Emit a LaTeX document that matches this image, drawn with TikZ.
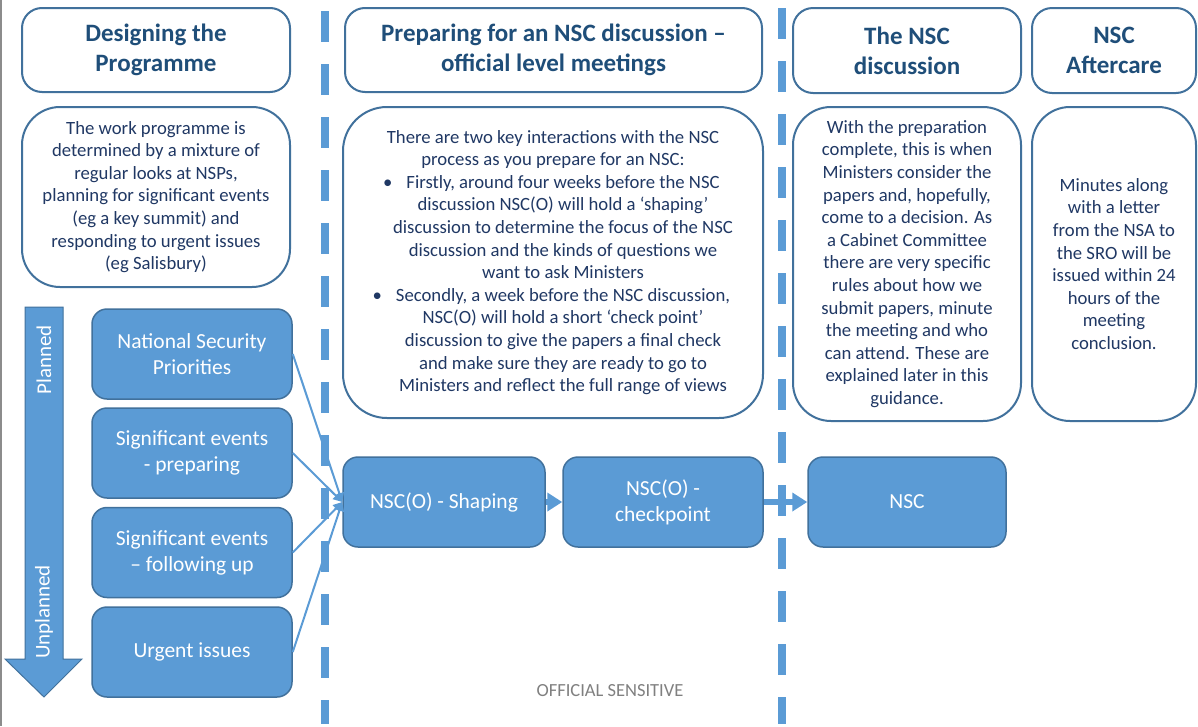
\documentclass[tikz,border=0pt]{standalone}
\usepackage{fontspec}
\setmainfont{Carlito}
\usetikzlibrary{arrows.meta}

\definecolor{nscblue}{HTML}{5B9BD5}
\definecolor{nscedge}{HTML}{41719C}
\definecolor{nschead}{HTML}{1F4E79}
\definecolor{nsctext}{HTML}{203864}

\tikzset{
  head/.style={draw=nscedge, line width=2pt, fill=white, rounded corners=20pt,
    inner sep=0pt, align=center, text=nschead,
    font=\fontsize{25}{30}\selectfont\bfseries},
  note/.style={draw=nscedge, line width=2pt, fill=white, rounded corners=38pt,
    inner sep=0pt, align=center, text=nsctext,
    font=\fontsize{18.7}{22.6}\selectfont},
  blob/.style={draw=nscedge, line width=1.5pt, fill=nscblue, rounded corners=15pt,
    inner sep=0pt, align=center, text=white,
    minimum width=200pt, minimum height=90pt,
    font=\fontsize{21.5}{26}\selectfont},
  link/.style={nscblue, line width=2pt, -{Triangle[length=9pt,width=9pt]}},
  fat/.style={nscblue, line width=5.5pt, -{Triangle[length=15pt,width=18pt]}},
  divider/.style={nscblue, line width=8pt, dash pattern=on 31pt off 22pt}
}

% bullet lines of the list: hanging bullet, body shifted right
\newcommand\nscbul{\hspace*{20pt}\llap{\textbullet\hspace{14pt}}}
\newcommand\nscind{\hspace*{20pt}}

\begin{document}
\begin{tikzpicture}[x=1pt, y=-1pt]
  \fill[white] (0,0) rectangle (1198,726);
  \useasboundingbox (0,0) rectangle (1198,726);
  \draw[gray!90, line width=1.5pt] (0.75,0) -- (0.75,726); % page edge

  % stage dividers
  \draw[divider] (325,11) -- (325,724);
  \draw[divider] (782,8) -- (782,724);

  % headings
  \node[head, minimum width=268pt, minimum height=84pt] (hdesign) at (156,50)
    {Designing the\\Programme};
  \node[head, minimum width=417pt, minimum height=84pt] (hprep) at (553.5,50)
    {Preparing for an NSC discussion –\\official level meetings};
  \node[head, minimum width=228pt, minimum height=85pt] (hnsc) at (907,50.5)
    {The NSC\\discussion};
  \node[head, minimum width=164pt, minimum height=85pt] (hafter) at (1114,50.5)
    {NSC\\Aftercare};

  % explanations
  \node[note, minimum width=268pt, minimum height=180pt] (ndesign) at (156,197)
    {The work programme is\\determined by a mixture of\\regular looks at NSPs,\\
     planning for significant events\\(eg a key summit) and\\
     responding to urgent issues\\(eg Salisbury)};
  \node[note, rounded corners=44pt, minimum width=420pt, minimum height=311pt] (nprep) at (553,262.5)
    {There are two key interactions with the NSC\\
     process as you prepare for an NSC:\\
     \nscbul Firstly, around four weeks before the NSC\\
     \nscind discussion NSC(O) will hold a ‘shaping’\\
     \nscind discussion to determine the focus of the NSC\\
     \nscind discussion and the kinds of questions we\\
     \nscind want to ask Ministers\\
     \nscbul Secondly, a week before the NSC discussion,\\
     \nscind NSC(O) will hold a short ‘check point’\\
     \nscind discussion to give the papers a final check\\
     \nscind and make sure they are ready to go to\\
     \nscind Ministers and reflect the full range of views};
  \node[note, minimum width=228pt, minimum height=314pt] (nnsc) at (907,264)
    {With the preparation\\complete, this is when\\Ministers consider the\\
     papers and, hopefully,\\come to a decision. As\\a Cabinet Committee\\
     there are very specific\\rules about how we\\submit papers, minute\\
     the meeting and who\\can attend. These are\\explained later in this\\guidance.};
  \node[note, minimum width=164pt, minimum height=314pt] (nafter) at (1114,264)
    {Minutes along\\with a letter\\from the NSA to\\the SRO will be\\
     issued within 24\\hours of the\\meeting\\conclusion.};

  % planned -> unplanned scale
  \draw[nscedge, fill=nscblue, line width=1pt]
    (25,307) -- (63,307) -- (63,659) -- (82,659) -- (44,697) -- (5,659) -- (25,659) -- cycle;
  \node[rotate=90, text=white, font=\fontsize{21}{24}\selectfont] (planned) at (44,360) {Planned};
  \node[rotate=90, text=white, font=\fontsize{21}{24}\selectfont] (unplanned) at (44,612) {Unplanned};

  % sources of work
  \node[blob] (nsp) at (192,354) {National Security\\Priorities};
  \node[blob] (prep) at (192,453) {Significant events\\- preparing};
  \node[blob] (follow) at (192,552.5) {Significant events\\– following up};
  \node[blob] (urgent) at (192,652) {Urgent issues};

  % meetings
  \node[blob, minimum width=202pt] (shaping) at (444,502) {NSC(O) - Shaping};
  \node[blob] (check) at (663,502) {NSC(O) -\\checkpoint};
  \node[blob, minimum width=198pt] (nsc) at (907,502) {NSC};

  \foreach \src in {nsp, prep, follow, urgent}
    \draw[link] (\src.east) -- (shaping.west);
  \draw[fat] (shaping.east) -- (check.west);
  \draw[fat] (check.east) -- (nsc.west);

  \node[text=gray, font=\fontsize{18.5}{20}\selectfont] (marking) at (610,691) {OFFICIAL SENSITIVE};
\end{tikzpicture}
\end{document}
